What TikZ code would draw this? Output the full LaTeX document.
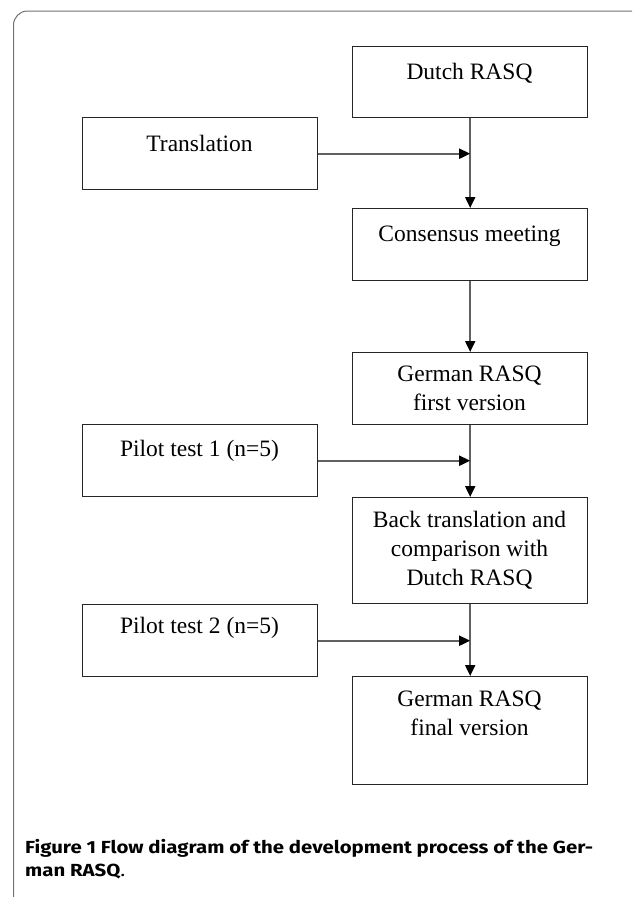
\documentclass[tikz,border=0pt]{standalone}
\usepackage{fontspec}
\usepackage{graphicx}
\setmainfont{Liberation Serif}
\newfontfamily\capfont{Fira Sans}
\usetikzlibrary{arrows.meta}
\newlength\capwid
\newcommand\capsxg{1}
\begin{document}
\begin{tikzpicture}[x=1pt,y=-1pt,
  box/.style={draw=black!85, line width=1.4pt, minimum width=235pt, inner sep=0pt, anchor=north west},
  lbl/.style={font=\fontsize{23.5}{29}\selectfont, align=center, inner sep=0pt},
  conn/.style={draw=black!62, line width=2pt, -{Triangle[length=11pt,width=10pt,color=black]}},
  captext/.style={anchor=base west, inner sep=0pt, font=\capfont\fontsize{17.5}{25}\selectfont}
]
\useasboundingbox (0,0) rectangle (632,897);
\fill[white] (0,0) rectangle (632,897);
\begin{scope}
\clip (0,0) rectangle (632,897);
\draw[black!55, line width=1pt, rounded corners=14pt] (13.5,910) -- (13.5,11) -- (645,11) -- (645,910);
\end{scope}

% boxes
\node[box, minimum height=71pt] (dutch) at (352,46) {};
\node[box, minimum height=72pt] (trans) at (82,117) {};
\node[box, minimum height=72pt] (cons) at (352,208) {};
\node[box, minimum height=72pt] (ger1) at (352,352) {};
\node[box, minimum height=72pt] (pil1) at (82,424) {};
\node[box, minimum height=106pt] (back) at (352,497) {};
\node[box, minimum height=72pt] (pil2) at (82,604) {};
\node[box, minimum height=108pt] (final) at (352,676) {};

% texts
\node[lbl] (tdutch) at (469.5,73.5) {Dutch RASQ};
\node[lbl] (ttrans) at (199.5,143) {Translation};
\node[lbl] (tcons) at (469.5,236) {Consensus meeting};
\node[lbl] (tger1) at (469.5,388) {German RASQ\\first version};
\node[lbl] (tpil1) at (199.5,451) {Pilot test 1 (n=5)};
\node[lbl] (tback) at (469.5,550) {Back translation and\\comparison with\\Dutch RASQ};
\node[lbl] (tpil2) at (199.5,628) {Pilot test 2 (n=5)};
\node[lbl] (tfinal) at (469.5,713) {German RASQ\\final version};

% junctions
\coordinate (j1) at (dutch.south |- trans.east);
\coordinate (j2) at (ger1.south |- pil1.east);
\coordinate (j3) at (back.south |- pil2.east);

% connectors
\draw[conn] (dutch.south) -- (cons.north);
\draw[conn] (trans.east) -- (j1);
\draw[conn] (cons.south) -- (ger1.north);
\draw[conn] (ger1.south) -- (back.north);
\draw[conn] (pil1.east) -- (j2);
\draw[conn] (back.south) -- (final.north);
\draw[conn] (pil2.east) -- (j3);

% caption
\node[captext] (cap1) at (25,853) {\settowidth{\capwid}{\textbf{Figure 1 Flow diagram of the development process of the Ger-}}%
  \pgfmathsetmacro{\capsx}{568/\capwid}\xdef\capsxg{\capsx}%
  \scalebox{\capsx}[1]{\textbf{Figure 1 Flow diagram of the development process of the Ger-}}};
\node[captext] (cap2) at (25,876) {\scalebox{\capsxg}[1]{\textbf{man RASQ}.}};
\end{tikzpicture}
\end{document}
